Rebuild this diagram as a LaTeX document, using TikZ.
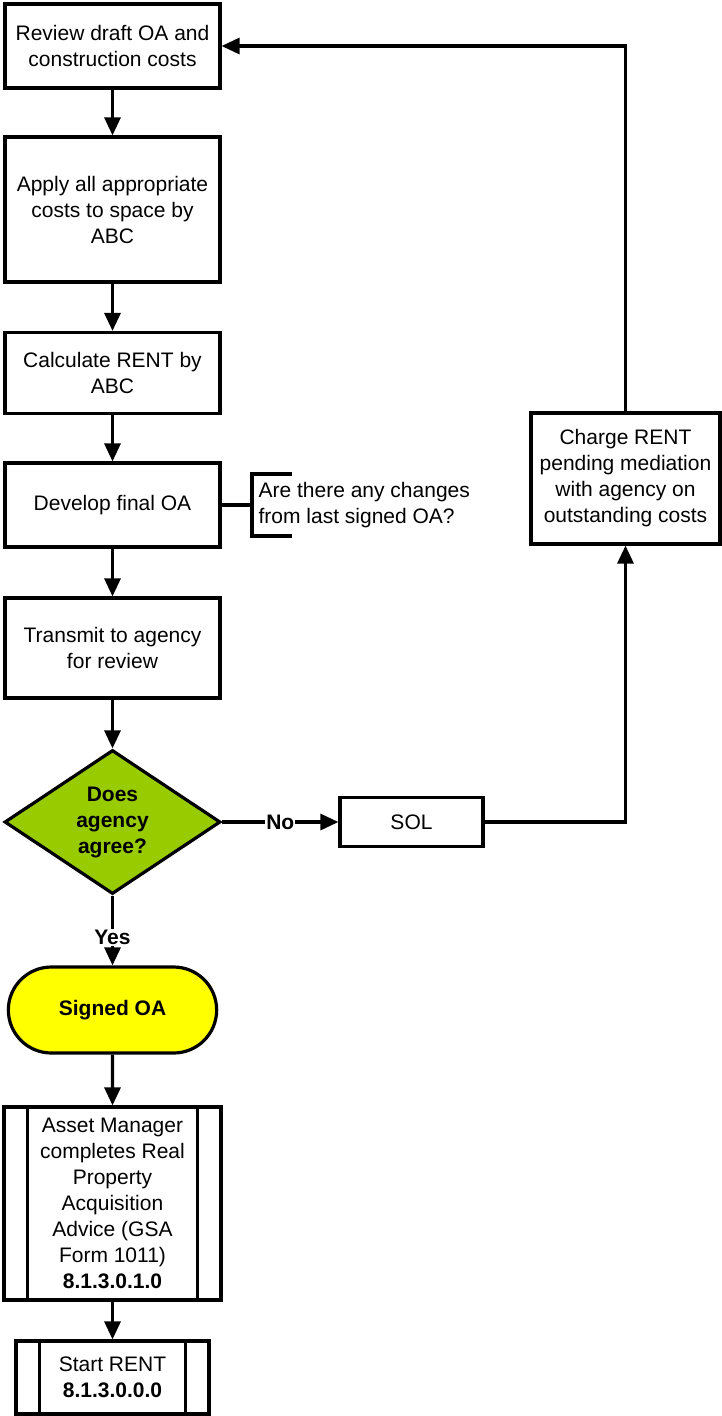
\documentclass[tikz,border=0pt]{standalone}
\usepackage{fontspec}
\setmainfont{Liberation Sans}
\usetikzlibrary{arrows.meta,calc,shapes.geometric,shapes.misc}
\definecolor{decgreen}{HTML}{99CC00}
\definecolor{termyellow}{HTML}{FFFF00}
\newcommand{\fs}{\fontsize{21}{26}\selectfont}
\tikzset{
  >={Triangle[length=18pt,width=16pt]},
  box/.style={rectangle,draw,align=center,inner sep=1pt,font=\fs},
  dec/.style={diamond,draw,fill=decgreen,aspect=1.5,inner sep=0pt,align=center,font=\fs\bfseries,minimum width=216pt,minimum height=144pt},
  term/.style={rounded rectangle,draw,fill=termyellow,align=center,font=\fs\bfseries,minimum width=215pt,minimum height=86pt},
  lab/.style={midway,fill=white,inner sep=1pt,font=\fs\bfseries},
}

\begin{document}
\begin{tikzpicture}[x=1pt,y=-1pt,line width=3.2pt]
\useasboundingbox (0,0) rectangle (721,1416);
\node[box,minimum width=215pt,minimum height=84pt] (rev) at (112.5,46) {Review draft OA and\\construction costs};
\node[box,minimum width=215pt,minimum height=145pt] (app) at (112.5,209.5) {Apply all appropriate\\costs to space by\\ABC};
\node[box,minimum width=215pt,minimum height=81pt] (calc) at (112.5,373) {Calculate RENT by\\ABC};
\node[box,minimum width=215pt,minimum height=84pt] (dev) at (112.5,505) {Develop final OA};
\node[box,minimum width=215pt,minimum height=100pt] (trn) at (112.5,648) {Transmit to agency\\for review};
\node[dec] (agr) at (112.5,822) {Does\\agency\\agree?};
\node[box,minimum width=143pt,minimum height=49pt] (sol) at (411.5,822) {SOL};
\node[box,minimum width=189pt,minimum height=131pt] (chg) at (625.5,478.5) {Charge RENT\\pending mediation\\with agency on\\outstanding costs};
\node[term] (sig) at (112.5,1010) {Signed OA};
\node[box,minimum width=217pt,minimum height=193pt] (am) at (112.5,1203.5) {Asset Manager\\completes Real\\Property\\Acquisition\\Advice (GSA\\Form 1011)\\\textbf{8.1.3.0.1.0}};
\node[box,minimum width=193pt,minimum height=73pt] (st) at (112.5,1377.5) {Start RENT\\\textbf{8.1.3.0.0.0}};
\foreach \n in {am,st}{%
 \draw ($(\n.north west)+(25,0)$) -- ($(\n.south west)+(25,0)$);
 \draw ($(\n.north east)+(-25,0)$) -- ($(\n.south east)+(-25,0)$);}
% annotation
\node[anchor=west,align=left,inner sep=0pt,font=\fs] (note) at (257,505) {Are there any changes\\from last signed OA?};
\coordinate (br) at (252,505);
\draw (dev.east) -- (br);
\draw (292,474) -- (252,474) -- (252,536) -- (292,536);
\foreach \a/\b in {rev/app,app/calc,calc/dev,dev/trn,trn/agr,sig/am,am/st}
 \draw[->] (\a) -- (\b);
\draw[->] (agr.east) -- node[lab]{No} (sol.west);
\draw[->] (agr.south) -- node[lab,pos=0.6]{Yes} (sig.north);
\draw[->] (sol.east) -- (sol.east -| chg.south) -- (chg.south);
\draw[->] (chg.north) -- (chg.north |- rev.east) -- (rev.east);
\end{tikzpicture}
\end{document}
